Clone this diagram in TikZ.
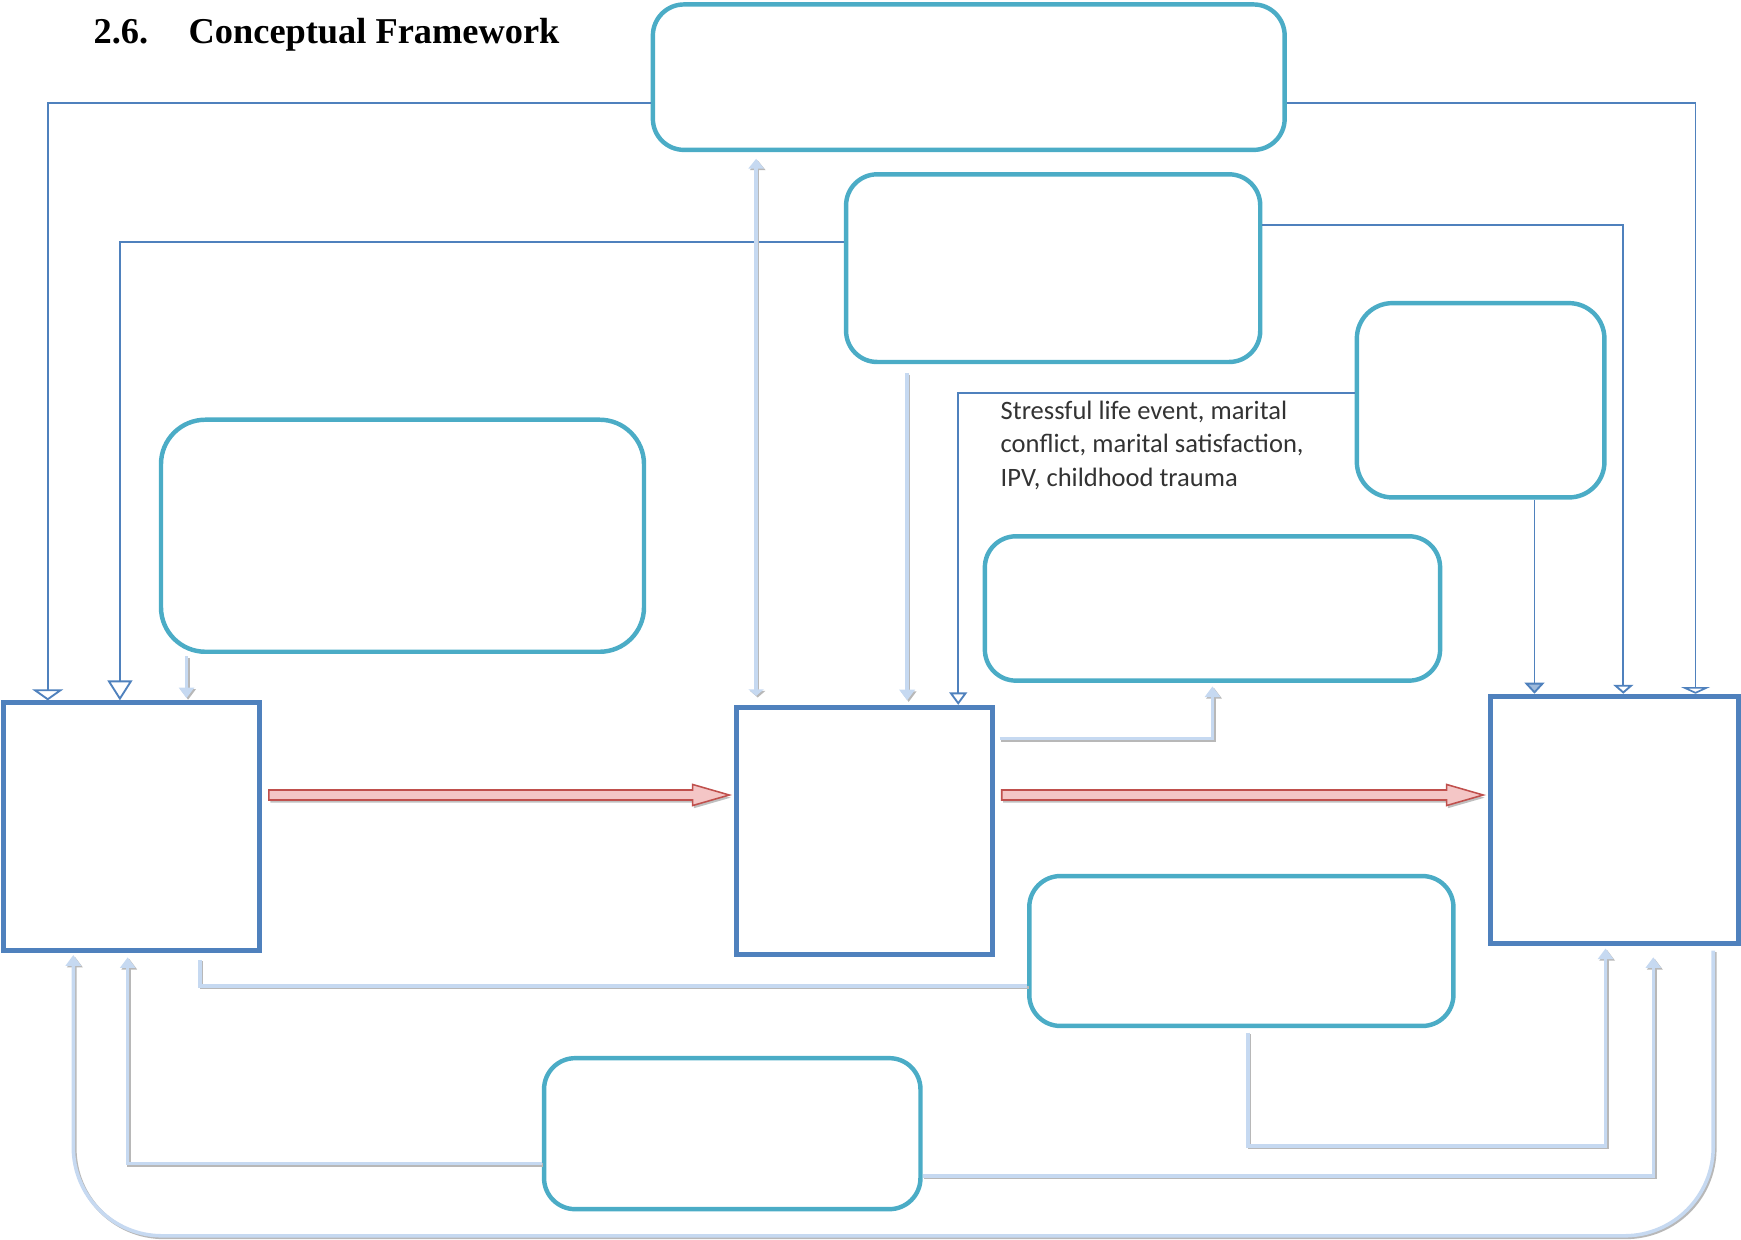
\documentclass[tikz,border=0pt]{standalone}
\usepackage{fontspec}
\setmainfont{Liberation Serif}
\newfontfamily\bodyfont{Carlito}
\usetikzlibrary{arrows.meta,calc,fit}

\definecolor{boxteal}{RGB}{75,172,198}
\definecolor{sqblue}{RGB}{79,129,189}
\definecolor{paleblue}{RGB}{198,217,241}
\definecolor{arrowred}{RGB}{192,80,77}
\definecolor{arrowpink}{RGB}{244,198,198}

\tikzset{
    roundbox/.style={draw=boxteal, line width=1mm, rounded corners=7mm, inner sep=0pt},
    squarebox/.style={draw=sqblue, line width=1.1mm, inner sep=0pt},
    link/.style 2 args={draw=sqblue, line width=0.42mm, -{Triangle[length=#1, width=#2, fill=white]}},
    faint/.style={draw=paleblue, line width=0.8mm,
        preaction={draw=black!28, line width=0.8mm, transform canvas={shift={(0.35mm,-0.35mm)}}}},
    faintarrow/.style={faint, -{Triangle[length=2.4mm, width=3.4mm]}},
    bigarrow/.style={draw=arrowred, fill=arrowpink, line width=0.35mm,
        preaction={fill=black!25, draw=none, transform canvas={shift={(0.3mm,-0.6mm)}}}},
}

\begin{document}
\begin{tikzpicture}[x=0.25mm, y=-0.25mm]

    \def\sh{4.5}        % half height of the red shaft
    \def\hh{9.5}        % half height of the red head
    \def\hl{33}         % length of the red head

    \useasboundingbox (0,0) rectangle (1568,1116);

    % Title
    \node[anchor=base west, inner sep=0pt, font=\fontsize{23.3}{28}\selectfont\bfseries] (title) at (84,39)
        {2.6.\hspace{26pt}Conceptual Framework};

    % Rounded boxes
    \node[roundbox, fit={(588,4) (1157,135)}] (topbox) {};
    \node[roundbox, fit={(762,157) (1135,326)}] (upperbox) {};
    \node[roundbox, rounded corners=8mm, fit={(1222,273) (1445,448)}] (cornerbox) {};
    \node[roundbox, rounded corners=10mm, fit={(145,378) (580,587)}] (bigbox) {};
    \node[roundbox, fit={(887,483) (1297,613)}] (stressbox) {};
    \node[roundbox, fit={(927,789) (1309,924)}] (lowerbox) {};
    \node[roundbox, fit={(490,953) (829,1089)}] (bottombox) {};

    % Square boxes
    \node[squarebox, fit={(3,633) (234,856)}] (leftsq) {};
    \node[squarebox, fit={(663,637) (894,860)}] (midsq) {};
    \node[squarebox, fit={(1342,627) (1566,850)}] (rightsq) {};

    % Label of the link into the middle square
    \node[anchor=north west, inner sep=0pt, align=left, font=\bodyfont\fontsize{17}{21.3}\selectfont, text=black!80] (stresstext) at (901,361)
        {Stressful life event, marital\\conflict, marital satisfaction,\\IPV, childhood trauma};

    % Thin blue links
    \draw[link={2.5mm}{7mm}] (topbox.west |- 0,93) -| (43,0 |- leftsq.north);
    \draw[link={4.5mm}{5.6mm}] (upperbox.west |- 0,218) -| (108,0 |- leftsq.north);
    \draw[link={1.5mm}{6.5mm}] (topbox.east |- 0,93) -| (1527,0 |- rightsq.north);
    \draw[link={2mm}{4.5mm}] (upperbox.east |- 0,203) -| (1462,0 |- rightsq.north);
    \draw[link={2.8mm}{4mm}] (cornerbox.west |- 0,354) -| (863,0 |- midsq.north);
    \draw[draw=sqblue, line width=0.42mm, -{Triangle[length=2.5mm, width=4.5mm, fill=sqblue!55]}]
        (1382,0 |- cornerbox.south) -- (1382,0 |- rightsq.north);

    % Faint links
    \draw[faint, {Triangle[length=2.2mm, width=3.4mm]}-{Triangle[length=1.5mm, width=3.4mm]}, shorten <=1.5mm, shorten >=2mm]
        (681,0 |- topbox.south) -- (681,0 |- midsq.north);
    \draw[faintarrow, shorten <=2mm, shorten >=1mm] (817,0 |- upperbox.south) -- (817,0 |- midsq.north);
    \draw[faintarrow, shorten <=0.5mm, shorten >=0.5mm] (168,0 |- bigbox.south) -- (168,0 |- leftsq.north);
    \draw[faintarrow, shorten <=1mm, shorten >=0.8mm] (midsq.east |- 0,665) -| (1092,0 |- stressbox.south);
    \draw[faint, shorten >=1.5mm] (lowerbox.west |- 0,888) -| (180,0 |- leftsq.south);
    \draw[faintarrow, shorten <=1mm, shorten >=0.5mm] (1124,0 |- lowerbox.south) -- (1124,1032) -| (1446,0 |- rightsq.south);
    \draw[faintarrow, shorten >=1mm] (bottombox.west |- 0,1048) -| (115,0 |- leftsq.south);
    \draw[faintarrow, shorten >=2.5mm] (bottombox.east |- 0,1059) -| (1489,0 |- rightsq.south);
    \draw[faintarrow, rounded corners=20mm, shorten <=1mm, shorten >=0.5mm]
        (1543,0 |- rightsq.south) -- (1543,1113) -- (66,1113) -- (66,0 |- leftsq.south);

    % Red block arrows between the squares
    \foreach \a/\b in {leftsq/midsq, midsq/rightsq} {
        \coordinate (p) at ($(\a.east |- 0,716)+(6,0)$);
        \coordinate (t) at ($(\b.west |- 0,716)+(-4,0)$);
        \draw[bigarrow] ($(p)+(0,-\sh)$) -- ($(t)+(-\hl,-\sh)$) -- ++(0,\sh-\hh) -- (t)
            -- ($(t)+(-\hl,\hh)$) -- ++(0,\sh-\hh) -- ($(p)+(0,\sh)$) -- cycle;
    }

\end{tikzpicture}
\end{document}
